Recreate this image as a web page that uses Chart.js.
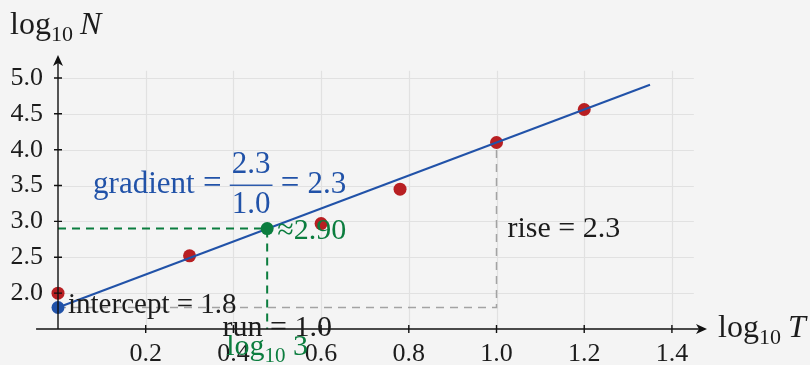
<!DOCTYPE html>
<html lang="en">
<head>
<meta charset="UTF-8">
<title>log N against log T</title>
<style>
  html, body { margin: 0; padding: 0; background: #f4f4f4; }
  #wrap { width: 810px; height: 365px; }
</style>
</head>
<body>
<div id="wrap"><canvas id="myChart" width="810" height="365"></canvas></div>

<script src="https://cdn.jsdelivr.net/npm/chart.js@4.4.0/dist/chart.umd.min.js"></script>
<script>
// data
const logT = [0, 0.30, 0.60, 0.78, 1.00, 1.20];
const logN = [2.00, 2.52, 2.97, 3.45, 4.10, 4.56];
const fitX = [0, 1.35];
const fitY = [1.8, 4.905];
const intercept = 1.8;
const readX = 0.477;   // log10 3
const readY = 2.90;
const riseX = 1.0;
const riseY = 4.1;
const xTicks = [0.2, 0.4, 0.6, 0.8, 1.0, 1.2, 1.4];
const yTicks = [2.0, 2.5, 3.0, 3.5, 4.0, 4.5, 5.0];

const SERIF = "'Liberation Serif', 'DejaVu Serif', serif";
const BLUE = '#2152a8';
const RED = '#b81f22';
const GREEN = '#0b7d3e';
const INK = '#1c1c1c';

// draw text pieces one after another (for subscripts and italics)
function rich(ctx, parts, x, y, align) {
  let w = 0;
  parts.forEach(p => {
    ctx.font = (p.italic ? 'italic ' : '') + p.size + 'px ' + SERIF;
    p.w = ctx.measureText(p.t).width;
    w += p.w;
  });
  let cx = align === 'center' ? x - w / 2 : x;
  ctx.textAlign = 'left';
  ctx.textBaseline = 'alphabetic';
  parts.forEach(p => {
    ctx.font = (p.italic ? 'italic ' : '') + p.size + 'px ' + SERIF;
    ctx.fillText(p.t, cx, y + (p.dy || 0));
    cx += p.w;
  });
  return cx;
}

function arrowHead(ctx, x, y, dir) {
  ctx.save();
  ctx.translate(x, y);
  if (dir === 'up') ctx.rotate(-Math.PI / 2);
  ctx.beginPath();
  ctx.moveTo(0, 0);
  ctx.lineTo(-11, -5);
  ctx.lineTo(-8, 0);
  ctx.lineTo(-11, 5);
  ctx.closePath();
  ctx.fill();
  ctx.restore();
}

const axesPlugin = {
  id: 'axes',
  beforeDraw(chart) {
    const ctx = chart.ctx;
    ctx.save();
    ctx.fillStyle = '#f4f4f4';
    ctx.fillRect(0, 0, chart.width, chart.height);
    ctx.restore();
  },
  beforeDatasetsDraw(chart) {
    const { ctx, scales: { x, y } } = chart;
    const x0 = x.getPixelForValue(0), y0 = y.getPixelForValue(1.5);
    ctx.save();
    // grid
    ctx.strokeStyle = '#e1e1e1';
    ctx.lineWidth = 1.2;
    ctx.beginPath();
    xTicks.forEach(v => {
      const px = Math.round(x.getPixelForValue(v)) + 0.5;
      ctx.moveTo(px, y0);
      ctx.lineTo(px, y.getPixelForValue(5.1));
    });
    yTicks.forEach(v => {
      const py = Math.round(y.getPixelForValue(v)) + 0.5;
      ctx.moveTo(x0, py);
      ctx.lineTo(x.getPixelForValue(1.45), py);
    });
    ctx.stroke();
    ctx.restore();
  },
  afterDatasetsDraw(chart) {
    const { ctx, scales: { x, y } } = chart;
    const x0 = x.getPixelForValue(0), y0 = y.getPixelForValue(1.5);
    ctx.save();
    // axes
    ctx.strokeStyle = '#111';
    ctx.fillStyle = '#111';
    ctx.lineWidth = 1.4;
    ctx.beginPath();
    ctx.moveTo(x.getPixelForValue(-0.05), y0);
    ctx.lineTo(x.getPixelForValue(1.48) - 4, y0);
    ctx.moveTo(x0, y0);
    ctx.lineTo(x0, y.getPixelForValue(5.32) + 4);
    xTicks.forEach(v => {
      const px = x.getPixelForValue(v);
      ctx.moveTo(px, y0 - 4);
      ctx.lineTo(px, y0 + 4);
    });
    yTicks.forEach(v => {
      const py = y.getPixelForValue(v);
      ctx.moveTo(x0 - 4, py);
      ctx.lineTo(x0 + 4, py);
    });
    ctx.stroke();
    arrowHead(ctx, x.getPixelForValue(1.48), y0, 'right');
    arrowHead(ctx, x0, y.getPixelForValue(5.32), 'up');

    // axis titles
    ctx.fillStyle = INK;
    rich(ctx, [{ t: 'log', size: 32 }, { t: '10', size: 22, dy: 7 }, { t: ' ', size: 28 }, { t: 'N', size: 32, italic: true }],
      x0 - 48, y.getPixelForValue(5.32) - 21, 'left');
    rich(ctx, [{ t: 'log', size: 32 }, { t: '10', size: 22, dy: 7 }, { t: ' ', size: 28 }, { t: 'T', size: 32, italic: true }],
      x.getPixelForValue(1.48) + 11, y0 + 8, 'left');

    // gradient = 2.3 / 1.0 = 2.3
    ctx.fillStyle = BLUE;
    const gy = y.getPixelForValue(3.5);
    let gx = rich(ctx, [{ t: 'gradient', size: 31 }, { t: ' = ', size: 33 }], x.getPixelForValue(0.08), gy + 7, 'left');
    ctx.font = '31px ' + SERIF;
    const fw = ctx.measureText('2.3').width + 4;
    ctx.textAlign = 'center';
    ctx.fillText('2.3', gx + fw / 2, gy - 13);
    ctx.fillText('1.0', gx + fw / 2, gy + 27);
    ctx.fillRect(gx, gy - 1, fw, 1.4);
    rich(ctx, [{ t: ' = ', size: 33 }, { t: '2.3', size: 31 }], gx + fw, gy + 7, 'left');

    // reading off the line at log10 3
    ctx.fillStyle = GREEN;
    rich(ctx, [{ t: '\u22482.90', size: 30 }], x.getPixelForValue(readX) + 10, y.getPixelForValue(readY) + 10, 'left');
    rich(ctx, [{ t: 'log', size: 30 }, { t: '10', size: 21, dy: 7 }, { t: ' 3', size: 30 }],
      x.getPixelForValue(readX), y0 + 26, 'center');

    // intercept, run and rise
    ctx.fillStyle = INK;
    rich(ctx, [{ t: 'intercept = 1.8', size: 29 }], x0 + 10, y.getPixelForValue(intercept) + 6, 'left');
    rich(ctx, [{ t: 'run = 1.0', size: 30 }], x.getPixelForValue(0.5), y0 + 7, 'center');
    rich(ctx, [{ t: 'rise = 2.3', size: 30 }], x.getPixelForValue(1.025), y.getPixelForValue(2.9) + 8, 'left');
    ctx.restore();
  }
};

const points = logT.map((v, i) => ({ x: v, y: logN[i] }));
const fitLine = fitX.map((v, i) => ({ x: v, y: fitY[i] }));

const config = {
  type: 'scatter',
  data: {
    datasets: [
      {
        label: 'intercept',
        data: [{ x: 0, y: intercept }],
        backgroundColor: BLUE, borderWidth: 0, pointRadius: 6.5,
        clip: false, order: 0
      },
      {
        label: 'log10 3 reading',
        data: [{ x: readX, y: readY }],
        backgroundColor: GREEN, borderWidth: 0, pointRadius: 6.5,
        clip: false, order: 0
      },
      {
        label: 'fit',
        type: 'line',
        data: fitLine,
        borderColor: BLUE, borderWidth: 2, pointRadius: 0,
        clip: false, order: 1
      },
      {
        label: 'data',
        data: points,
        backgroundColor: RED, borderWidth: 0, pointRadius: 6.5,
        clip: false, order: 2
      },
      {
        label: 'run and rise',
        type: 'line',
        data: [{ x: 0, y: intercept }, { x: riseX, y: intercept }, { x: riseX, y: riseY }],
        borderColor: '#a3a3a3', borderWidth: 1.5, borderDash: [8, 6], pointRadius: 0,
        clip: false, order: 3
      },
      {
        label: 'guide',
        type: 'line',
        data: [{ x: 0, y: readY }, { x: readX, y: readY }, { x: readX, y: 1.5 }],
        borderColor: GREEN, borderWidth: 2, borderDash: [8, 6], pointRadius: 0,
        clip: false, order: 3
      }
    ]
  },
  options: {
    responsive: false,
    animation: false,
    devicePixelRatio: 1,
    layout: { padding: { top: 55, right: 103, left: 0, bottom: 0 } },
    plugins: { legend: { display: false }, tooltip: { enabled: false } },
    scales: {
      x: {
        type: 'linear', min: 0, max: 1.48,
        grid: { display: false, drawTicks: false },
        border: { display: false },
        afterBuildTicks: s => { s.ticks = xTicks.map(v => ({ value: v })); },
        afterFit: s => { s.height = 36; },
        ticks: {
          callback: v => v.toFixed(1),
          font: { family: SERIF, size: 26 }, color: INK,
          padding: 10, maxRotation: 0, autoSkip: false
        }
      },
      y: {
        type: 'linear', min: 1.5, max: 5.32,
        grid: { display: false, drawTicks: false },
        border: { display: false },
        afterBuildTicks: s => { s.ticks = yTicks.map(v => ({ value: v })); },
        afterFit: s => { s.width = 58; },
        ticks: {
          callback: v => v.toFixed(1),
          font: { family: SERIF, size: 26 }, color: INK,
          padding: 15, autoSkip: false
        }
      }
    }
  },
  plugins: [axesPlugin]
};

const myChart = new Chart(document.getElementById('myChart'), config);
</script>
</body>
</html>
